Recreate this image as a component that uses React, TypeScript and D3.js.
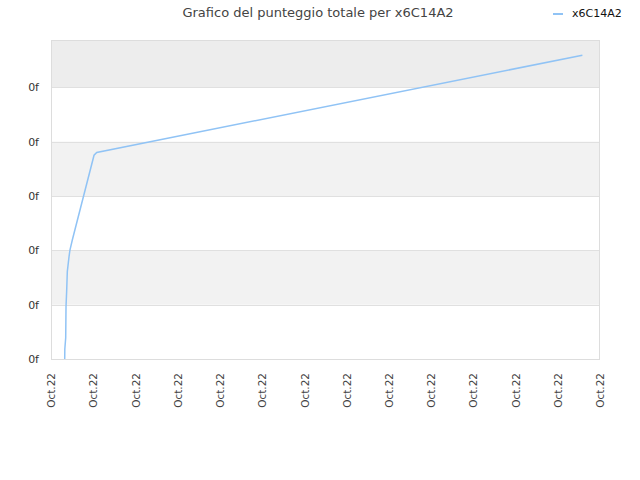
import React, { useRef, useEffect } from "react";
import * as d3 from "d3";

// Times of each score update and the running total
const times = [
  "2022-10-01T15:35",
  "2022-10-01T15:42",
  "2022-10-01T16:43",
  "2022-10-01T17:04",
  "2022-10-01T17:51",
  "2022-10-01T18:33",
  "2022-10-01T20:28",
  "2022-10-01T21:36",
  "2022-10-02T00:13",
  "2022-10-03T00:55",
  "2022-10-03T03:59",
  "2022-10-26T03:59",
];
const scores = [0, 0.18, 0.39, 0.96, 1.27, 1.61, 1.88, 2.01, 2.19, 3.75, 3.8, 5.59];

const yTicks = [0, 1, 2, 3, 4, 5];
const xStart = "2022-10-01T00:00";
const xEnd = "2022-10-27T00:00";
const seriesName = "x6C14A2";
const title = "Grafico del punteggio totale per x6C14A2";

const App = () => {
  const svgRef = useRef<SVGSVGElement>(null);

  useEffect(() => {
    const margin = { top: 40, right: 40, bottom: 121, left: 51 };
    const W = 640;
    const H = 480;
    const width = W - margin.left - margin.right;
    const height = H - margin.top - margin.bottom;
    const font = "DejaVu Sans, Verdana, sans-serif";

    const parse = d3.timeParse("%Y-%m-%dT%H:%M");
    const data = times.map((t, i) => ({ date: parse(t), value: scores[i] }));

    const x = d3
      .scaleTime()
      .domain([parse(xStart), parse(xEnd)])
      .range([0, width]);

    const y = d3.scaleLinear().domain([0, 5.87]).range([height, 0]);

    const root = d3.select(svgRef.current);
    root.selectAll("*").remove();
    root.attr("width", W).attr("height", H);

    // Title
    root
      .append("text")
      .attr("x", 318)
      .attr("y", 17)
      .attr("text-anchor", "middle")
      .attr("font-family", font)
      .attr("font-size", 13)
      .attr("fill", "#444")
      .text(title);

    // Legend
    root
      .append("line")
      .attr("x1", 553)
      .attr("x2", 563)
      .attr("y1", 14)
      .attr("y2", 14)
      .attr("stroke", "#90c3f5")
      .attr("stroke-width", 2);
    root
      .append("text")
      .attr("x", 572)
      .attr("y", 17)
      .attr("font-family", font)
      .attr("font-size", 11)
      .attr("fill", "#111")
      .text(seriesName);

    const svg = root
      .append("g")
      .attr("transform", `translate(${margin.left},${margin.top})`);

    // Alternating bands
    const bandEdges = [...yTicks, y.domain()[1]];
    for (let i = 0; i < bandEdges.length - 1; i++) {
      if (i % 2 === 0) continue;
      svg
        .append("rect")
        .attr("x", 0)
        .attr("width", width)
        .attr("y", y(bandEdges[i + 1]))
        .attr("height", y(bandEdges[i]) - y(bandEdges[i + 1]))
        .attr("fill", i === bandEdges.length - 2 ? "#ededed" : "#f2f2f2");
    }

    // Grid lines
    svg
      .selectAll(".grid")
      .data(yTicks)
      .enter()
      .append("line")
      .attr("x1", 0)
      .attr("x2", width)
      .attr("y1", (d) => Math.round(y(d)) + 0.5)
      .attr("y2", (d) => Math.round(y(d)) + 0.5)
      .attr("stroke", "#e0e0e0");

    // Plot border
    svg
      .append("rect")
      .attr("x", 0.5)
      .attr("y", 0.5)
      .attr("width", width - 1)
      .attr("height", height)
      .attr("fill", "none")
      .attr("stroke", "#dddddd");

    // Y axis labels
    svg
      .append("g")
      .call(
        d3
          .axisLeft(y)
          .tickValues(yTicks)
          .tickFormat(() => "0f")
          .tickSize(0)
          .tickPadding(12)
      )
      .call((g) => g.select(".domain").remove())
      .selectAll("text")
      .attr("font-family", font)
      .attr("font-size", 11)
      .attr("fill", "#333");

    // X axis labels
    svg
      .append("g")
      .attr("transform", `translate(0,${height})`)
      .call(
        d3
          .axisBottom(x)
          .ticks(d3.timeDay.every(2))
          .tickFormat(d3.timeFormat("%b.%y"))
          .tickSize(0)
      )
      .call((g) => g.select(".domain").remove())
      .selectAll("text")
      .attr("font-family", font)
      .attr("font-size", 10.5)
      .attr("fill", "#444")
      .attr("text-anchor", "end")
      .attr("transform", "rotate(-90)")
      .attr("x", -14)
      .attr("y", 0)
      .attr("dy", "0.35em");

    // Line
    const line = d3
      .line<{ date: Date; value: number }>()
      .x((d) => x(d.date))
      .y((d) => y(d.value));

    svg
      .append("path")
      .datum(data)
      .attr("d", line)
      .attr("fill", "none")
      .attr("stroke", "#90c3f5")
      .attr("stroke-width", 1.5);
  }, []);

  return (
    <svg
      ref={svgRef}
      style={{ position: "absolute", left: 0, top: 0, background: "#fff" }}
    ></svg>
  );
};

export default App;
